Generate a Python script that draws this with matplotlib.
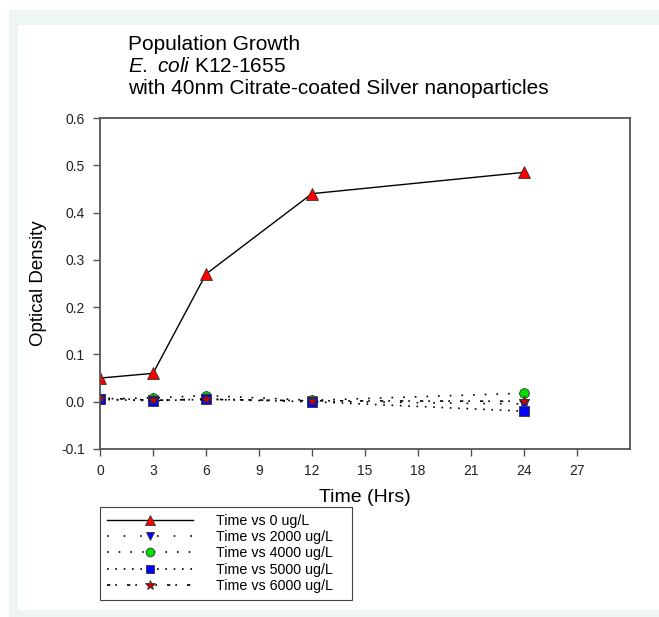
import matplotlib
matplotlib.use("Agg")
import matplotlib.pyplot as plt
from matplotlib.patches import Rectangle

plt.rcParams['font.family'] = ['Liberation Sans', 'DejaVu Sans']
plt.rcParams['mathtext.fontset'] = 'custom'
plt.rcParams['mathtext.rm'] = 'Liberation Sans'
plt.rcParams['mathtext.it'] = 'Liberation Sans:italic'

# dane
czas = [0, 3, 6, 12, 24]
od_0 = [0.050, 0.060, 0.270, 0.440, 0.485]
od_2000 = [0.005, 0.003, 0.006, 0.001, -0.005]
od_4000 = [0.006, 0.008, 0.013, 0.003, 0.018]
od_5000 = [0.005, 0.002, 0.005, 0.000, -0.020]
od_6000 = [0.008, 0.003, 0.005, 0.002, 0.001]
etykiety = ["Time vs 0 ug/L", "Time vs 2000 ug/L", "Time vs 4000 ug/L",
            "Time vs 5000 ug/L", "Time vs 6000 ug/L"]
x_ticki = [0, 3, 6, 9, 12, 15, 18, 21, 24, 27]
y_ticki = [-0.1, 0.0, 0.1, 0.2, 0.3, 0.4, 0.5, 0.6]

W, H = 659, 617
fig = plt.figure(figsize=(W / 100, H / 100), dpi=100)
fig.patch.set_facecolor('white')
fig.patches.append(Rectangle((9 / W, 0), 1, 1 - 10 / H, transform=fig.transFigure,
                             facecolor='#edf6f1', edgecolor='none', zorder=-2))
fig.patches.append(Rectangle((18 / W, 7 / H), 1, 1 - 25 / H - 7 / H, transform=fig.transFigure,
                             facecolor='white', edgecolor='none', zorder=-1))

ax = fig.add_axes([100 / W, 1 - 449 / H, 530 / W, 331 / H])
ax.set_facecolor('none')

ax.plot(czas, od_0, color='black', lw=1, marker='^', ms=8,
        mfc='red', mec='#333333', mew=0.6, label=etykiety[0])
ax.plot(czas, od_2000, color='black', lw=1.2, ls=(0, (1, 9)), marker='v', ms=7,
        mfc='blue', mec='#333333', mew=0.6, label=etykiety[1])
ax.plot(czas, od_4000, color='black', lw=1.2, ls=(0, (1, 6)), marker='o', ms=7,
        mfc='#00e000', mec='#333333', mew=0.6, label=etykiety[2])
ax.plot(czas, od_5000, color='black', lw=1.2, ls=(0, (1, 4)), marker='s', ms=7,
        mfc='blue', mec='#333333', mew=0.6, label=etykiety[3])
ax.plot(czas, od_6000, color='black', lw=1.2, ls=(0, (2, 3, 1, 6)), marker='*', ms=8,
        mfc='#cc0000', mec='#333333', mew=0.6, label=etykiety[4])

ax.set_xlim(0, 30)
ax.set_ylim(-0.1, 0.6)
ax.set_xticks(x_ticki)
ax.set_yticks(y_ticki)
ax.set_yticklabels([f"{v:.1f}" for v in y_ticki])
for s in ax.spines.values():
    s.set_color('#555555')
    s.set_linewidth(1.3)
ax.tick_params(direction='out', length=5, width=1, color='#555555',
               labelsize=10, labelcolor='#222222', pad=6)
ax.set_xlabel("Time (Hrs)", fontsize=14, labelpad=8)
ax.set_ylabel("Optical Density", fontsize=13.5, labelpad=10)

fig.text(128 / W, 1 - 45 / H, "Population Growth", fontsize=15, va='center')
fig.text(128 / W, 1 - 66 / H, r"$\it{E.}$ $\it{coli}$ K12-1655", fontsize=15, va='center')
fig.text(128 / W, 1 - 88 / H, "with 40nm Citrate-coated Silver nanoparticles",
         fontsize=15, va='center')

leg = ax.legend(loc='upper left', bbox_to_anchor=(100 / W, 1 - 507 / H),
                bbox_transform=fig.transFigure, fontsize=10.3, handlelength=6.0,
                fancybox=False, framealpha=1, edgecolor='#444444',
                borderpad=0.5, labelspacing=0.15, handletextpad=1.6,
                markerscale=0.9, numpoints=1, borderaxespad=0)
leg.get_frame().set_linewidth(0.8)
for t in leg.get_texts():
    t.set_text(t.get_text() + "   ")

fig.savefig("out.png", dpi=100)
